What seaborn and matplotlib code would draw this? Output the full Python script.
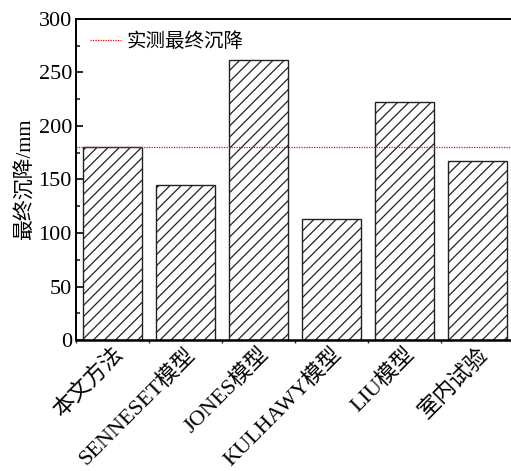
import matplotlib
matplotlib.use("Agg")
import matplotlib.pyplot as plt
import seaborn as sns
import pandas as pd
from matplotlib.ticker import MultipleLocator, FixedLocator

methods = ["本文方法", "SENNESET模型", "JONES模型", "KULHAWY模型", "LIU模型", "室内试验"]
settlement = [180, 145, 262, 113, 222, 167]
measured = 180
ylabel = "最终沉降/mm"
legend_label = "实测最终沉降"

sns.set_theme(style="ticks", rc={"axes.edgecolor": "black", "axes.linewidth": 1.3})
plt.rcParams["font.family"] = ["Liberation Serif", "Noto Sans CJK SC"]
plt.rcParams["hatch.linewidth"] = 0.9
plt.rcParams["axes.unicode_minus"] = False

df = pd.DataFrame({"method": methods, "value": settlement})

fig, ax = plt.subplots(figsize=(5.11, 4.71), dpi=100)
fig.subplots_adjust(left=0.149, right=1.006, bottom=0.278, top=0.960)

sns.barplot(data=df, x="method", y="value", ax=ax, color="white",
            edgecolor="#222222", linewidth=1.0, width=0.8, hatch="///",
            saturation=1)

ax.axhline(measured, color="red", linestyle=(0, (1, 1)), linewidth=0.9,
           label=legend_label)

ax.set_ylim(0, 300)
ax.set_xlim(-0.5, 5.5)
ax.yaxis.set_major_locator(MultipleLocator(50))
ax.yaxis.set_minor_locator(MultipleLocator(25))
ax.xaxis.set_minor_locator(FixedLocator([i + 0.5 for i in range(-1, 6)]))

ax.tick_params(axis="y", which="major", direction="in", length=5, width=1.2,
               labelsize=16, left=True, pad=3, colors="black")
ax.tick_params(axis="y", which="minor", direction="in", length=3, width=1.2, left=True)
ax.tick_params(axis="x", which="major", direction="in", length=4, width=1,
               labelsize=16, bottom=True, pad=3, colors="black")
ax.tick_params(axis="x", which="minor", direction="out", length=2, width=1, bottom=True)

ax.set_xticks(range(len(methods)))
ax.set_xticklabels(methods, rotation=45, ha="right", rotation_mode="anchor")
ax.set_xlabel("")
ax.set_ylabel(ylabel, fontsize=15, labelpad=2, color="black")

for side in ["left", "top", "right"]:
    ax.spines[side].set_color("black")
    ax.spines[side].set_linewidth(1.4)
ax.spines["bottom"].set_color("black")
ax.spines["bottom"].set_linewidth(1.8)

ax.legend(loc="upper left", frameon=False, fontsize=14, handlelength=1.6,
          handletextpad=0.3, borderaxespad=0.3, bbox_to_anchor=(0.0, 1.0),
          labelcolor="black")

fig.savefig("out.png", dpi=100)
